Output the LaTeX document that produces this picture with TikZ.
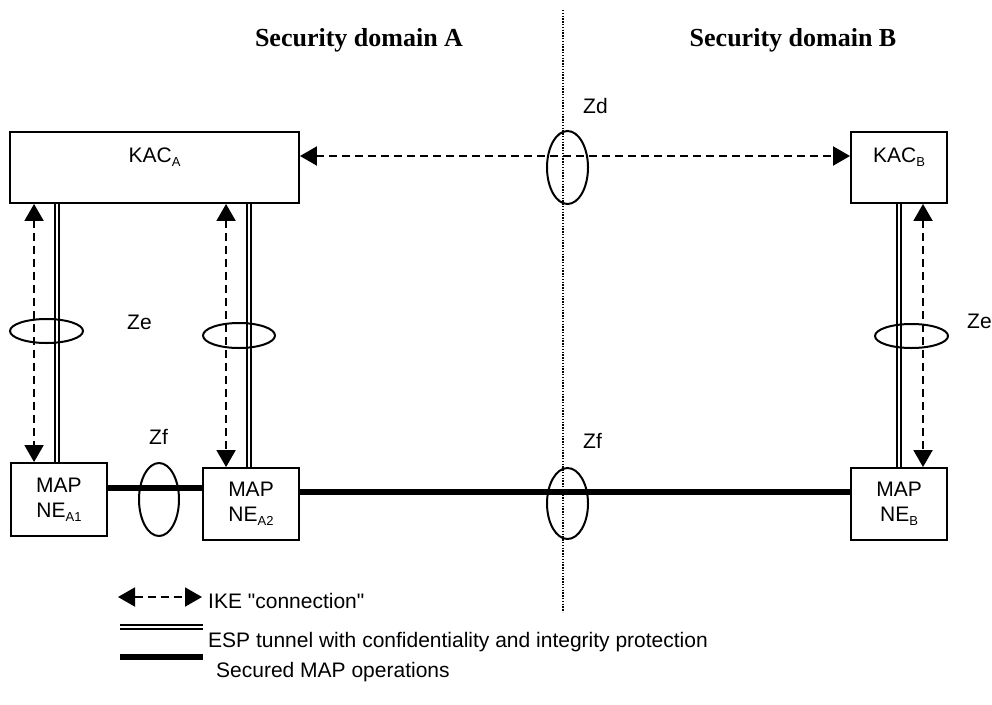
\documentclass[tikz,border=0pt]{standalone}
\usepackage{fontspec}
\setmainfont{Liberation Sans}
\newfontfamily\titlefont{Liberation Serif}
\usetikzlibrary{arrows.meta}
\newcommand{\lowsub}[1]{\raisebox{-4pt}{\fontsize{13}{13}\selectfont #1}}

\begin{document}
\begin{tikzpicture}[x=1pt,y=-1pt,
                      boxNode/.style={draw,line width=1.9pt,inner sep=0pt,align=center,
                                      minimum width=96pt,minimum height=72pt},
                      textNode/.style={inner sep=0pt,anchor=base west},
                      titleNode/.style={inner sep=0pt,anchor=base,font=\titlefont\bfseries\fontsize{26}{30}\selectfont},
                      ikeLine/.style={line width=2pt,dash pattern=on 8pt off 5pt,
                                      {Triangle[length=17pt,width=19pt]}-{Triangle[length=17pt,width=19pt]}},
                      espLine/.style={double,line width=1.7pt,double distance=2.2pt},
                      mapLine/.style={line width=5.5pt},
                      ringLine/.style={line width=2pt},
                      font=\fontsize{21}{25}\selectfont]
    \useasboundingbox (0,0) rectangle (992,704);
    % domains
    \node [titleNode] (titleA) at (359,46) {Security domain A};
    \node [titleNode] (titleB) at (793,46) {Security domain B};
    \coordinate (borderTop) at (563,10);
    \coordinate (borderBot) at (563,612);
    \draw [line width=1.4pt,dash pattern=on 1.4pt off 1.4pt] (borderTop) -- (borderBot);
    % key administration centres
    \node [boxNode,minimum width=289pt,minimum height=71pt] (kacA) at (154.5,167.5) {};
    \node [boxNode,minimum height=71pt] (kacB) at (899,167.5) {};
    \node [textNode,anchor=base] (kacAtxt) at (154.5,162) {KAC\lowsub{A}};
    \node [textNode,anchor=base] (kacBtxt) at (899,162) {KAC\lowsub{B}};
    % network elements
    \node [boxNode,minimum height=73pt] (neA1) at (59,499.5) {MAP\\NE\lowsub{A1}};
    \node [boxNode] (neA2) at (251,504) {MAP\\NE\lowsub{A2}};
    \node [boxNode] (neB) at (899,504) {MAP\\NE\lowsub{B}};
    % Zd
    \draw [ikeLine] ([yshift=11.5pt]kacA.east) -- ([yshift=11.5pt]kacB.west);
    % Ze
    \draw [ikeLine] ([xshift=25pt]kacA.south west) -- ([xshift=24pt]neA1.north west);
    \draw [espLine] ([xshift=48pt]kacA.south west) -- ([xshift=47pt]neA1.north west);
    \draw [ikeLine] ([xshift=217pt]kacA.south west) -- ([xshift=24pt]neA2.north west);
    \draw [espLine] ([xshift=240pt]kacA.south west) -- ([xshift=47pt]neA2.north west);
    \draw [espLine] (kacB.south) -- (neB.north);
    \draw [ikeLine] ([xshift=24pt]kacB.south) -- ([xshift=24pt]neB.north);
    % Zf
    \draw [mapLine] ([yshift=11.5pt]neA1.east) -- ([yshift=16pt]neA2.west);
    \draw [mapLine] ([yshift=12pt]neA2.east) -- ([yshift=12pt]neB.west);
    % interface rings
    \draw [ringLine] (567.5,167.5) ellipse [x radius=20.5pt,y radius=36.5pt];
    \draw [ringLine] (567.5,503.5) ellipse [x radius=20.5pt,y radius=35.5pt];
    \draw [ringLine] (159,499.5) ellipse [x radius=20pt,y radius=36.5pt];
    \draw [ringLine] (46.5,331) ellipse [x radius=36.5pt,y radius=12pt];
    \draw [ringLine] (239,335.5) ellipse [x radius=36pt,y radius=12.5pt];
    \draw [ringLine] (911.5,336) ellipse [x radius=36.5pt,y radius=12pt];
    \node [textNode] (zdLabel) at (583,113) {Zd};
    \node [textNode] (zeLabelA) at (127,329) {Ze};
    \node [textNode] (zeLabelB) at (967,328) {Ze};
    \node [textNode] (zfLabelA) at (149,444) {Zf};
    \node [textNode] (zfLabelB) at (583,448) {Zf};
    % legend
    \coordinate (ikeL) at (118,597);
    \coordinate (ikeR) at (202,597);
    \coordinate (espL) at (120,627);
    \coordinate (espR) at (203,627);
    \coordinate (mapL) at (120,657);
    \coordinate (mapR) at (203,657);
    \draw [ikeLine] (ikeL) -- (ikeR);
    \draw [espLine] (espL) -- (espR);
    \draw [mapLine] (mapL) -- (mapR);
    \node [textNode] (ikeText) at (208,608) {IKE \textquotedbl connection\textquotedbl};
    \node [textNode] (espText) at (208,647) {ESP tunnel with confidentiality and integrity protection};
    \node [textNode] (mapText) at (216,677) {Secured MAP operations};
  \end{tikzpicture}
\end{document}
